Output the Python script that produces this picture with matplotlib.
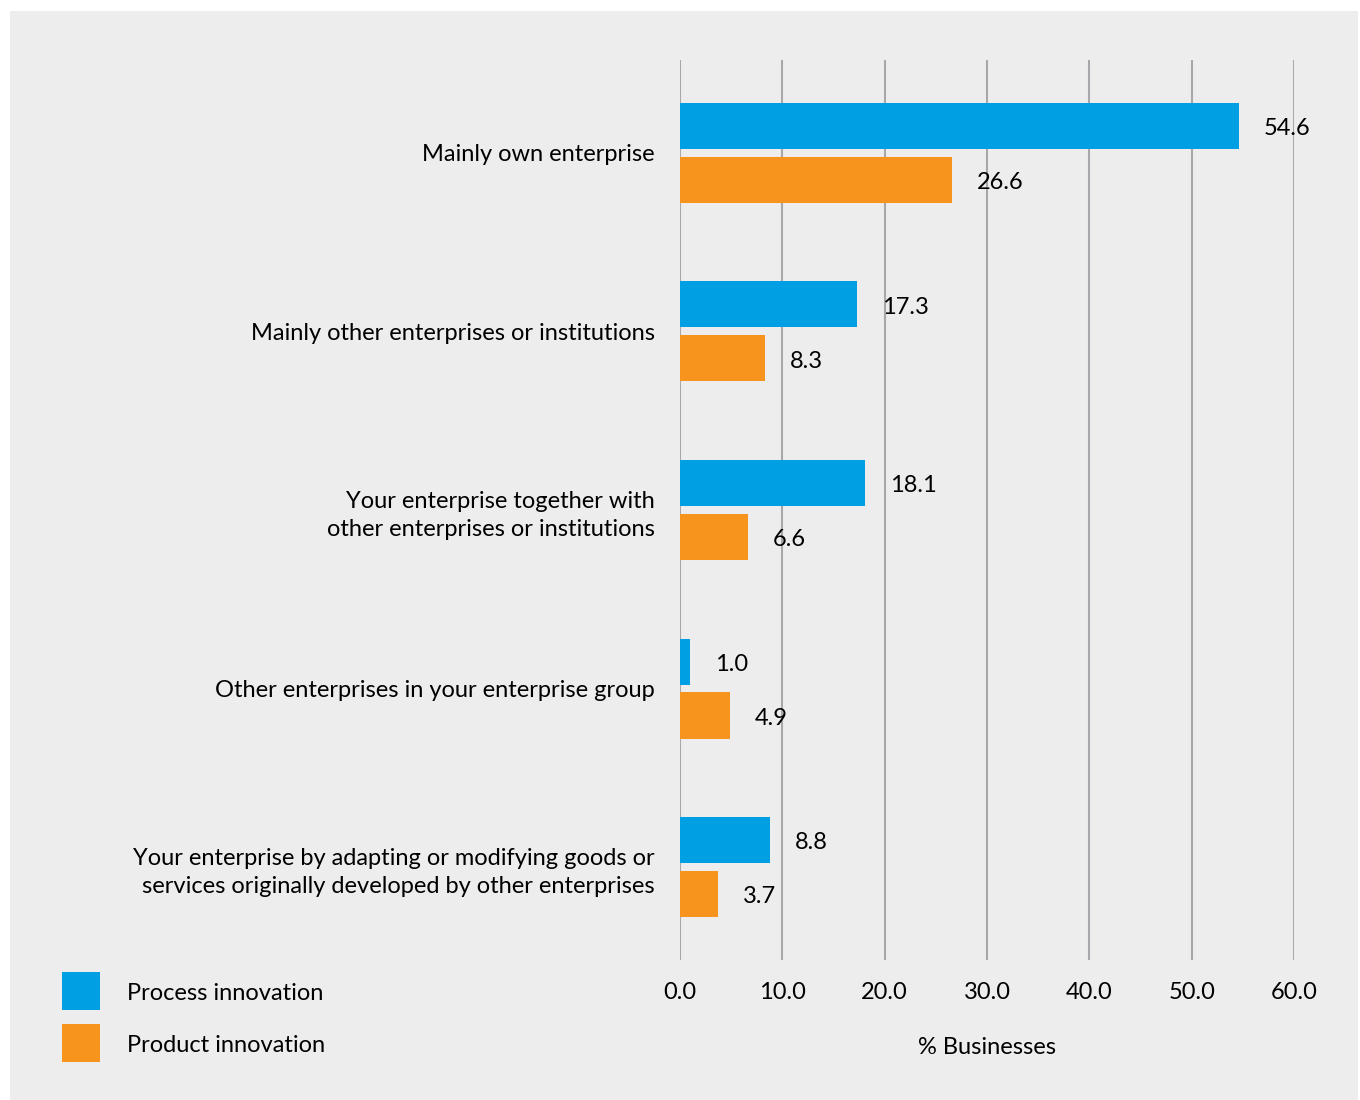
import matplotlib.pyplot as plt
import numpy as np
from matplotlib.patches import Rectangle

plt.rcParams['font.family'] = ['Lato', 'DejaVu Sans']

categories = [
    "Mainly own enterprise",
    "Mainly other enterprises or institutions",
    "Your enterprise together with\nother enterprises or institutions",
    "Other enterprises in your enterprise group",
    "Your enterprise by adapting or modifying goods or\nservices originally developed by other enterprises",
]
process = [54.6, 17.3, 18.1, 1.0, 8.8]
product = [26.6, 8.3, 6.6, 4.9, 3.7]
series_names = ["Process innovation", "Product innovation"]
xticks = [0, 10, 20, 30, 40, 50, 60]

blue = "#009fe3"
orange = "#f7941e"
bg = "#ededed"
fs = 17

fig = plt.figure(figsize=(13.6, 11), dpi=100)
fig.patch.set_facecolor("white")
fig.patches.append(Rectangle((10 / 1360, 0), 1348 / 1360, 1 - 11 / 1100,
                             transform=fig.transFigure, facecolor=bg,
                             edgecolor="none", zorder=-10))

ax = fig.add_axes([680 / 1360, 1 - 960 / 1100, 614 / 1360, 900 / 1100])
ax.set_facecolor(bg)
ax.set_zorder(1)

y = np.arange(len(categories))
h = 0.258
off = 0.151
ax.barh(y - off, process, height=h, color=blue, zorder=3)
ax.barh(y + off, product, height=h, color=orange, zorder=3)

for yi, v in zip(y - off, process):
    ax.annotate(f"{v:.1f}", (v, yi), xytext=(18, -2), textcoords="offset points",
                va="center", ha="left", fontsize=fs, color="black", zorder=4)
for yi, v in zip(y + off, product):
    ax.annotate(f"{v:.1f}", (v, yi), xytext=(18, -2), textcoords="offset points",
                va="center", ha="left", fontsize=fs, color="black", zorder=4)

ax.set_xlim(0, 60)
ax.set_ylim(4.52, -0.52)
ax.set_xticks(xticks)
ax.set_xticklabels([f"{t:.1f}" for t in xticks], fontsize=fs)
ax.set_yticks(y)
ax.set_yticklabels(categories, fontsize=fs, ha="right", linespacing=1.4)
ax.tick_params(axis="y", length=0, pad=18)
ax.tick_params(axis="x", length=0, pad=16)
ax.grid(axis="x", color="#a8a8ac", linewidth=1.5, zorder=1)
ax.set_axisbelow(True)
for s in ax.spines.values():
    s.set_visible(False)
ax.set_xlabel("% Businesses", fontsize=fs, labelpad=24)

# legend drawn as figure patches
for i, (name, c) in enumerate(zip(series_names, [blue, orange])):
    top = 972 + i * 52
    fig.patches.append(Rectangle((62 / 1360, 1 - (top + 38) / 1100), 38 / 1360, 38 / 1100,
                                 transform=fig.transFigure, facecolor=c, edgecolor="none"))
    fig.text(127 / 1360, 1 - (top + 22) / 1100, name, fontsize=fs, va="center", ha="left")

fig.savefig("out.png", dpi=100, facecolor=fig.get_facecolor())
